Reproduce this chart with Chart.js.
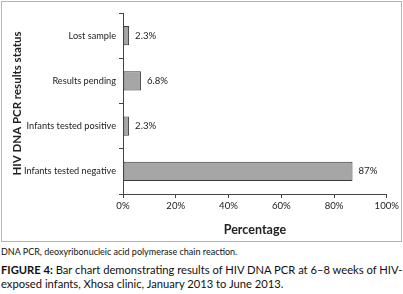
<!DOCTYPE html>
<html>
<head>
<meta charset="utf-8">
<script src="https://cdn.jsdelivr.net/npm/chart.js@4"></script>
<style>
  body { margin: 0; background: #fff; font-family: Lato, sans-serif; color: #111; }
  #frame { position: absolute; left: 1px; top: 1px; width: 399px; height: 239px; border: 1px solid #b5b5b5; }
  #note { position: absolute; left: 1px; top: 246px; font-size: 9px; }
  #caption { position: absolute; left: 1px; top: 263px; width: 402px; font-size: 11.2px; line-height: 14px; }
</style>
</head>
<body>
<div id="frame"><canvas id="grafic" width="399" height="239"></canvas></div>
<div id="note">DNA PCR, deoxyribonucleic acid polymerase chain reaction.</div>
<div id="caption"><b>FIGURE 4:</b> Bar chart demonstrating results of HIV DNA PCR at 6–8 weeks of HIV-exposed infants, Xhosa clinic, January 2013 to June 2013.</div>
<script>
const categories = ['Lost sample', 'Results pending', 'Infants tested positive', 'Infants tested negative'];
const percentages = [2.3, 6.8, 2.3, 87];
const valueLabels = ['2.3%', '6.8%', '2.3%', '87%'];

// etiquetes de valor a la dreta de cada barra
const valueLabelPlugin = {
    id: 'valueLabels',
    afterDatasetsDraw(chart) {
        const ctx = chart.ctx;
        const meta = chart.getDatasetMeta(0);
        ctx.save();
        ctx.font = '9.6px Lato';
        ctx.fillStyle = '#222';
        ctx.textBaseline = 'middle';
        meta.data.forEach(function (bar, i) {
            ctx.fillText(valueLabels[i], bar.x + 6, bar.y);
        });
        ctx.restore();
    }
};

new Chart(document.getElementById('grafic').getContext('2d'), {
    type: 'bar',
    data: {
        labels: categories,
        datasets: [{
            data: percentages,
            backgroundColor: '#a6a6a6',
            borderColor: '#3a3a3a',
            borderWidth: 1,
            borderSkipped: false,
            categoryPercentage: 0.42,
            barPercentage: 1
        }]
    },
    options: {
        indexAxis: 'y',
        responsive: false,
        animation: false,
        layout: { padding: { top: 11, right: 14, left: 0, bottom: 0 } },
        scales: {
            x: {
                min: 0,
                max: 100,
                ticks: { stepSize: 20, callback: v => v + '%', color: '#222', font: { family: 'Lato', size: 9.6 }, padding: 2, maxRotation: 0 },
                grid: { drawOnChartArea: false, tickLength: 4, color: '#444' },
                border: { color: '#444' },
                title: { display: true, text: 'Percentage', color: '#222', font: { family: 'Lato', size: 12.5, weight: 'bold' }, padding: { top: 7 } },
                afterFit: s => { s.height = 47; }
            },
            y: {
                ticks: { color: '#222', font: { family: 'Lato', size: 9.2 }, padding: 3 },
                grid: { drawOnChartArea: false, offset: true, tickLength: 4, color: '#444' },
                border: { color: '#444' },
                title: { display: true, text: 'HIV DNA PCR results status', color: '#222', font: { family: 'Lato', size: 11.5, weight: 'bold' }, padding: { top: 8, bottom: 0 } },
                afterFit: s => { s.width = 121; }
            }
        },
        plugins: {
            legend: { display: false },
            tooltip: { enabled: false }
        }
    },
    plugins: [valueLabelPlugin]
});
</script>
</body>
</html>
